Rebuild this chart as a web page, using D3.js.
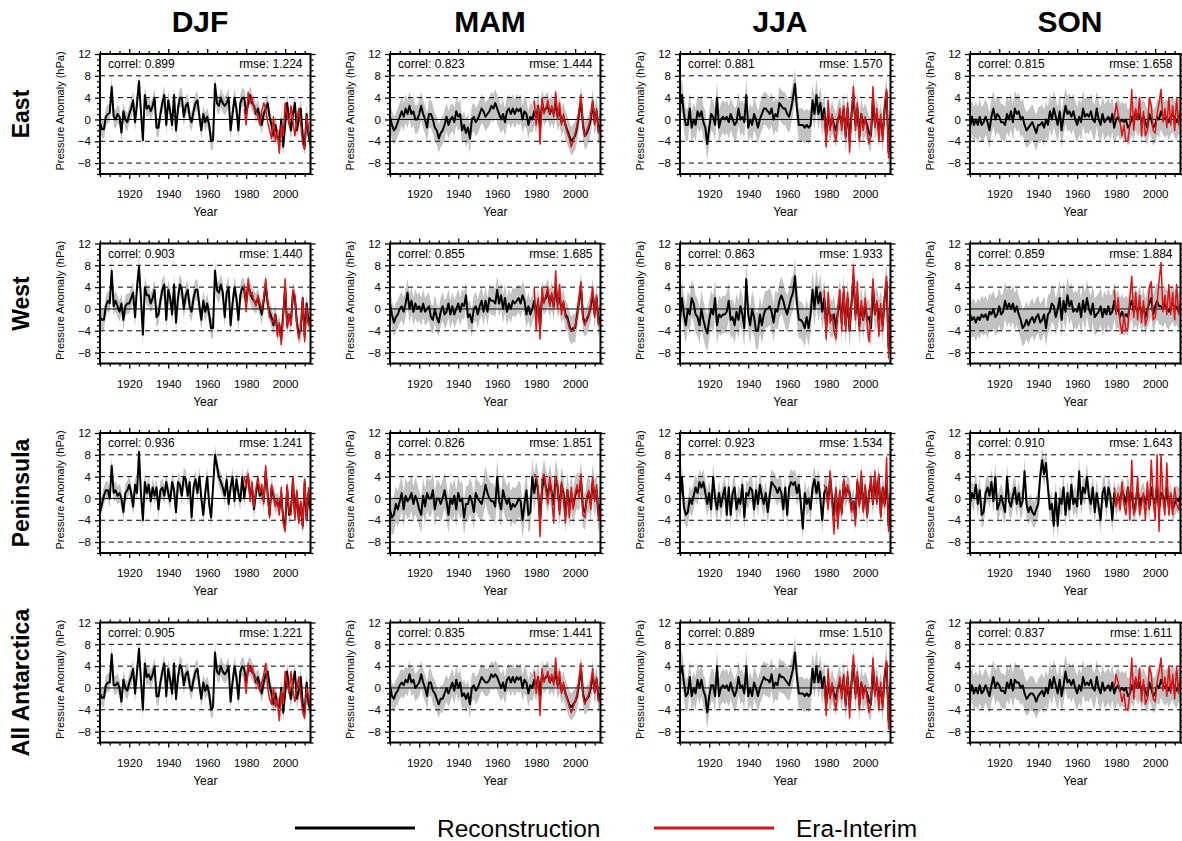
<!DOCTYPE html>
<html><head><meta charset="utf-8">
<script src="https://cdn.jsdelivr.net/npm/d3@7"></script>
<style>body{margin:0;background:#fff}svg{display:block;font-family:"Liberation Sans",Arial,Helvetica,sans-serif}</style>
</head><body>
<script>
// ---------------- DATA ----------------
const seasons = ["DJF","MAM","JJA","SON"];
const regions = ["East","West","Peninsula","All Antarctica"];
const firstYear = 1905, lastYear = 2013, eraStart = 1979;
const xTickValues = [1920,1940,1960,1980,2000];
const yTickValues = [-8,-4,0,4,8,12];
const dashedLevels = [-8,-4,4,8];

const correlEast = ["0.899","0.823","0.881","0.815"], rmseEast = ["1.224","1.444","1.570","1.658"];
const correlWest = ["0.903","0.855","0.863","0.859"], rmseWest = ["1.440","1.685","1.933","1.884"];
const correlPen  = ["0.936","0.826","0.923","0.910"], rmsePen  = ["1.241","1.851","1.534","1.643"];
const correlAll  = ["0.905","0.835","0.889","0.837"], rmseAll  = ["1.221","1.441","1.510","1.611"];

// half width of grey uncertainty band (hPa), per season
const bandEast = [1.7,2.6,3.0,3.3];
const bandWest = [1.9,2.6,3.4,3.4];
const bandPen  = [1.7,3.3,2.4,2.4];
const bandAll  = [1.7,2.5,3.0,3.2];

// Reconstructions 1905-2013
const reconEastDJF = [-0.5,-1.8,-1.8,0.5,1,1.2,6,0.5,0,1, 0.5,-2.4,1.5,0,-0.5,1,2,3.5,-0.5,3, 7,1.5,-3.8,4.5,2,2.5,1.5,2.5,4,-1.5, -1.5,1,3,4.5,-1,3.5,1.5,-1,4.5,-2, 2,4,4,0.5,2.5,3,0.5,-0.5,1.5,3, 3.5,0.5,-2,1,-0.5,0.5,-1,-4,-3.8,6.5, 3,2.5,4,3,2.5,3,4,-2,1,4, 2,-2,3,4,4,1,3,4.5,3,2.5, 1,2,0.5,-1,1,2,3,0.5,-1,-3, -1,-3,-4,0,-5,-1,3,0,-2,1, 3,-2,0,2,-3,-5,1,-3,-4.5];
const reconEastMAM = [0.5,-1,-2,-1.5,-0.5,0.5,1.5,0.5,2,1, 2.5,1,1.5,0,0,1,2.5,1,0,-1.5, 1,1,0,-1.5,-2,-3.5,-2.5,-2,-1,0.5, -1,0,0.5,-0.5,1.5,0.5,1,-2,-1,-2.5, -1.5,-3.5,0,0.5,-0.5,0,1,2,1.5,0.5, 1,1.5,2.5,2,3,2,1,0,1,-0.5, 1.5,2,1,2,1,2,1.5,2,0,1.5, 1,-1,0.5,0,1.5,0,2.5,-1.5,3,1.5, 2,2.5,1,2,1,3,0.5,1.5,-0.5,0.5, -1,-2,-3,-4,-3.5,-3,-1.5,1,3.5,-1, -3,-2.5,-1.5,0,3,-0.5,1.5,-2,-1];
const reconEastJJA = [2.5,4.5,1,-1,-1,2,-1.5,0,-1,1.5, 0.5,1.5,-0.5,-1.5,-4.5,-1.5,1,0.5,-1,4, -1.5,0,0.5,0,0.5,-0.5,1,0,-1,-0.5, 2,0,0.5,-0.5,4.5,-1.5,0,-1,1,0, -1.5,0,1,2,2,1.5,1,2,0,1, 0.5,3,2.5,2,2,1,0.5,2,4,6.5, 2,-1,-1,-1,-1.5,-1,-1.5,-1,3.5,1, 4.5,1,3,0,2,-3,1,-1.5,0.5,-1, -2,0,1,-1,2,-3,2,-4,1,4.5, -1,2,-3,1,-1,0,-1,-2.5,-3,4, -1,1,-2,0,-3,2,5,-6,1];
const reconEastSON = [-1.5,0.5,-1,0,-1,0.5,-1,-0.5,0.5,-0.5, -2,0.5,2,0,1,0.5,-0.5,-0.5,-1,1, 0,1.5,-0.5,2,1,1.5,0,0.5,-1,-2, -1.5,-1,-0.5,-1.5,-2.5,-1,-1,-0.5,-1.5,0, -1,1.5,0,2,0.5,-1,1.5,-2,0.5,2.5, 1,1.5,0.5,1.5,0,-1,0.5,-0.5,2,0.5, 1,0.5,1.5,0,-0.5,2,0,-1,1,-0.5, 0,0.5,-0.5,1,-1.5,0,0.5,-0.5,0,-0.5, 0,-1.5,-1,0.5,-0.5,1.5,0,1,-0.5,0.5, -0.5,-1.5,1,0,-1.5,-1,0.5,0,1.5,0.5, 0,0.5,-0.5,0.5,1,0,-0.5,0.5,1];

const reconWestDJF = [-1.5,-2,-2,0.5,1.5,1,7,0.5,1.5,0.5, -0.5,1,-2,0.5,1,1,2,3,-1.5,4, 7.8,2,-4.7,4,2.5,2.5,1,2,3.5,-1.5, -1,1.5,3.5,4.5,-2,3.5,2,-1,4.5,-2.5, 2,4.5,3.5,0,2.5,3.5,0.5,-0.5,2,3.5, 3.5,0.5,-2,1.5,-0.5,1,-1,-3.5,-3.5,7, 3.5,3,4.5,3,-1.5,3,4,-3,1,4, 2,-2,2.5,4,3.5,1,4.5,3,2,1.5, 1,2,0.5,-1,1.5,4.5,1,-0.5,-1.5,-3, -1,-4,-3,-5.5,-1,4,-3,-1,-2.5,3, 2,-2.5,-4.5,-4,2,-5,1,-2.5,-1.5];
const reconWestMAM = [1,-1,-2.5,-1.5,-1,0,0.5,-0.5,1,3, 0,1.5,-0.5,1,0,0.5,-0.5,1,-0.5,0, 0.5,-1.5,-2,0,-1.5,-2.5,-0.5,0.5,-1,-0.5, 1,-1,0.5,-1,0,1,-0.5,1,0.5,2.5, -1.5,-1,-2.5,0,0.5,-1,0.5,1.5,-0.5,1.5, -0.5,2,1.5,1.5,1,3.5,1,2.5,0,2, -0.5,1,0,1.5,1,1.5,2,1,2.5,1.5, -1,0.5,-1,0,1.5,-1,1.5,-3.5,2.5,1.5, 2,3,1,2.5,0.5,4,1,2,0,1, -1,-1.5,-3,-4,-3.5,-3.5,-1,1.5,4,-1.5, -2.5,-2,-1,0.5,3,-1,2,-2.5,-1.5];
const reconWestJJA = [-2,2,-1,-3,0,-1,2,1,-1,-1.5, -3,0,-2,-3.5,-4.5,-2,0,-1,2,-3, -1,-1.5,-1,-1,-0.5,1.5,-2,-1.5,-3,-0.5, -2,0.5,-1,-3.5,5.5,-1,-3,0,-1.5,-4, -4,-1,-3,-1,0,0,0.5,-0.5,-2.5,0, -0.5,1.5,2.5,1.5,0,-1,0.5,2,3,6, 1,-2,-2,-2.5,-3.5,-1.5,-3.5,-1,3.5,0, 4,1,3,-0.5,2,-3.5,1,-1.5,-2,-1, -3.5,-0.5,2,-2.5,3,-3,2,-4,1,6, -1,2.5,-3,0.5,-2,1,-2,-1.5,-3.5,4, -1,1,-2,0,-3,2,5,-7,1];
const reconWestSON = [-1,-2,-1.5,-2.5,-1.5,-2,-1,-1.5,-1,-2, -0.5,-1,0,-1.5,-1,0.5,-1,-0.5,1.5,0, 1,0,1,-0.5,0.5,-1,-2,-3.5,-3,-2, -3,-2,-1.5,-2.5,-1.5,-1,-2.5,-2,-1,-3.5, -1,-0.5,1,0.5,-1.5,0,2,-2,1.5,-0.5, 2.5,0.5,1.5,-0.5,0,-0.5,1,-1.5,1.5,-0.5, 2,0,-1,1,-1.5,-1,-0.5,0.5,-1.5,0, -1,0.5,-1,-0.5,1.5,-0.5,0,-1.5,-0.5,-1.5, -1,-1.5,0.5,1.5,-0.5,0.5,-0.5,1,-1,0.5, -1.5,0,1,2,-1,0.5,1.5,0.5,0.5,0, 1,0,-0.5,0.5,1,0,0.5,-0.5,0.5];

const reconPenDJF = [-2.5,-1,0.5,1.5,1.5,0,6,1,1.5,0.5, 1,0,-2.5,1,1.5,2.5,1,-1.5,2.5,1, 8.5,1,-4,3,1,2.5,-0.5,2,0.5,2, -2,1.5,2,0.5,3,1,-0.5,3,1.5,-2.5, 3,2.5,0.5,4,3.5,0.5,3,-3.5,2,3.5, 1,4,0,-3,1,4,-1,-3.5,2,8, 6,4,3,2,0.5,3.5,-1,2,4,-0.5, 3.5,1,-0.5,4,0,3,4,0.5,2,-2, 1,3,0.5,1.5,-0.5,5,1,-3,2,0.5, -1,-0.5,-2,1,-4,-5,2,-3,-2,3.5, -3,1,-4,-1,-5,3,-4,1,-2];
const reconPenMAM = [-2,-3.5,-3,-1,-2,-0.5,1,-2,0.5,-0.5, 0,1,-1,0.5,-0.5,-2,-3,0.5,-1.5,1, 0,0,1.5,-2,0,0,-1,0,1.5,-0.5, -3,0,-1,0.5,-2,1,-0.5,0,-3.5,-1, -1,0.5,-0.5,-2.5,1,0,-0.5,-1,0.5,2.5, 1,0,-0.5,-0.5,-1.5,4,-0.5,-2,1.5,0, -1,0,-2,-1,-1.5,-1,0,-0.5,-4,-1, 1.5,-3,-2.5,4,1,3.5,1.5,-4,1.5,4, 2,0.5,3,1,-1,4,2,-2,2.5,1, -3,1.5,-2,1,-1.5,0.5,1.5,1,3.5,-2, -2.5,0,1,-1,3,0,1.5,-3,-1];
const reconPenJJA = [0,4,-1.5,-3,-2.5,0,-1,0.5,2,1, 3,2,3,1,-1,1,-2,4,0,-2, 1,-1.5,0.5,2,-3,2,-3,1,2,-2, 0,-1,2.5,-3.5,1,0.5,2,1.5,-2,1.5, -1,2.5,0.5,-1,1,-2.5,0.5,3,2.5,2, 1,2,1,-2,2,-3,2,3,2.5,3, 1,2.5,-1,-5.5,1,-1,0,-2,2,3.5, 1,3,0,-4,1,2,-1,4,0,-3, 1.5,-4,1,-2.5,3,0.5,2,1,-2,-0.5, -3.5,3,-1,4,-2,2,-3,1,3,-1, 4,-0.5,4,-3,2,-1,4,-5,1];
const reconPenSON = [-1,1,0,2.5,-1,1.5,-3,-2.5,1,2, 0.5,3,-0.5,4,-2,-1,0.5,-1,-2.5,4, -0.5,-1.5,0.5,2,-1,1,-1.5,-0.5,5,-1, -2.5,-1.5,-2.5,-3,-2,-1,4,7,4.5,6.5, 2,-2,-1,-5,1,-5,0,-1,2,-3, 1,-2,2.5,-1,0,-1.5,5,-1,2,1, 4,0.5,-1,2,-2.5,1,-1.5,-4,1,2, -1.5,2,0.5,-4,1,-1,0.5,-0.5,1.5,0.5, -1,2,-0.5,1,-2,-1,2,-1.5,0,0.5, -1,1,-1.5,2,0,-1,2,-2,1,0.5, -1,2,-1.5,0.5,-2,-1,0,-0.5,0.5];

const reconAllDJF = [-1,-1.8,-1.8,0.5,1,1,6.2,0.5,0.5,1, 0,-2.5,1.5,0,-0.5,1,2,3.5,-1,3, 7.2,1.5,-4,4.5,2,2.5,1.5,2.5,4,-1.5, -1.5,1,3,4.5,-1.5,3.5,1.5,-1,4.5,-2, 2,4.2,3.5,0.5,2.5,3,0.5,-0.5,1.5,3, 3.5,0.5,-2,1,-0.5,0.5,-1,-4,-3.5,6.5, 3,2.5,4,3,2.5,3,4,-2.5,1,4, 2,-2,3,4,3.5,1,3.5,4,3,2.5, 1,2,0.5,-1,1,2.5,3,0.5,-1,-3, -1,-3,-3.5,0,-4.5,-1,3,0,-2,1, 3,-2,-0.5,2,-3,-4.5,1,-3,-4];
const reconAllMAM = [0.5,-1.5,-2,-1,-0.5,0.5,1,0.5,1.5,1, 2.5,1,1.5,0,0.5,1,2.5,1,0,-1.5, 1,1,-0.5,-1,-2,-3,-2,-2,-1,0, -1,0,1,-0.5,1.5,0,1,-1.5,-1,-2, -1,-3,0,0.5,-0.5,0,1,2,1.5,1, 1,1.5,2.5,2,2.5,2,1,0,1,-0.5, 1.5,2,1,2,1,2,1.5,2,0,1.5, 1,-1,0.5,0,1.5,0,2,-1.5,2.5,1.5, 2,2.5,1,2,1,3,0.5,1.5,-0.5,0.5, -1,-2,-3,-3.5,-3,-2.5,-1.5,1,3.5,-1, -2.5,-2,-1.5,0,2.5,-0.5,1.5,-2,-1];
const reconAllJJA = [2.5,4,1,-1.5,-1,2,-1.5,0,-1,1.5, 0,1.5,-0.5,-1.5,-4.5,-1.5,0.5,0.5,-1.5,4, -1.5,0,0.5,0,0.5,-0.5,1,-0.5,-1.5,-0.5, 2,0,0.5,-1,4,-1.5,0,-1.5,1,0, -1.5,0,1,2,1.5,1.5,1,2.5,0,1, 0.5,2.5,2,2,1.5,1,0.5,2,3.5,6.5, 2,-1,-1,-1,-1.5,-1,-1.5,-1,3.5,1, 4,1,3,0,2,-3,1,-1.5,0.5,-1, -2,0,1,-1,2,-3,2,-3.5,1,4.5, -1,2,-3,1,-1,0,-1,-2.5,-3,4, -1,1,-2,0,-3,2,4.5,-6,1];
const reconAllSON = [-1,0.5,-1,0,-1,0.5,-1,-0.5,0.5,-0.5, -1.5,0.5,2,0,1,0.5,-0.5,-0.5,-1,1, 0,1.5,-0.5,1.5,1,1,0,0.5,-1,-2, -1.5,-1,-1,-1.5,-2.5,-1.5,-1,-0.5,-1.5,0, -1,1.5,0,2,0.5,-1,1.5,-1.5,0.5,3, 1,1.5,0.5,1.5,0,-1,0.5,-0.5,2,0.5, 1,0.5,1.5,0,-0.5,2,0,-1,1,-0.5, 0,0.5,-0.5,1,-1,0,0.5,-0.5,0,-0.5, 0,-1.5,-1,0.5,-0.5,1.5,0,1,-0.5,0.5, -0.5,-1.5,1,0,-1.5,-1,0.5,0,1.5,0.5, 0,0.5,-0.5,0.5,1,0,-0.5,0.5,1];

// ERA-Interim 1979-2013
const eraEastDJF = [2,-1,5,3,4,2,1.5,0.5,-1,1.5, 3,2,-0.5,-2,-3.5,0.5,-4,-2,-6.2,-1, -3,3,1,-1,2.5,-0.5,-3,0,2,-1, -4.5,-5.5,0.5,-2,-4];
const eraEastMAM = [3.5,-1,2.5,-4.5,4,1,2,3.5,1,2.5, 0.5,5,0,3,-1,1,-1,-2.5,-3.5,-5, -4,-2.5,-1,1.5,4.5,-1.5,-3,-2,-1,0.5, 3.5,-1,2,-2.5,-1.5];
const eraEastJJA = [1,-5,3.5,-2,1,-2,-4,0,2,-2, 2.5,-3.5,3,-6,1,6,-2,3,-4,1, -2,0.5,-2,-4.5,-2.5,6,-1.5,2,-4,1, -4,3,5.5,-7,2];
const eraEastSON = [0,3,1,-0.5,-3,-1,-4,-4,-1,5.5, -2,2,0,4,-3,1.5,-3,-2,4,2.5, -2,-2.5,1,3,5.5,-0.5,2,-1.5,4,-1, 2.5,-2,4,-1,2];

const eraWestDJF = [4.5,-0.5,5.5,2.5,3,1.5,0.5,2.5,1,0, 2,5.5,1.5,-1.5,-2,-2.5,-1,-5,-2.5,-6.5, -1.5,5.5,-3.5,-1,-3,3.5,2.5,-3,-5.5,-3.5, 2,-6,0.5,-3,-2];
const eraWestMAM = [4,-4,2,-5.5,4,1,2.5,4,0.5,3, 0,7,0,4.5,-1,1.5,-1.5,-2,-3.5,-4, -4,-3,-1.5,2,5,-2,-3,-1.5,-1,1, 4,-1.5,2.5,-3,-2];
const eraWestJJA = [3.5,-5.5,3,-2.5,-1,-4,-5.5,0,3.5,-4, 4,-4,3,-4,1,8,-2,5,-4,1.5, -2,2,-2.5,-6,-1.5,5.5,-1,1.5,-5,1, -4,2.5,6,-9,5.5];
const eraWestSON = [3.5,-1,2,-2.5,-4.5,-1,-4,-3.5,2,6, -1.5,3,-2,2.5,-2.5,1.5,-3,-1.5,4,5, -2,-1.5,1,5,8.5,-0.5,2.5,-1,4.5,-1, 3,-2,4.5,-1,1.5];

const eraPenDJF = [4,2,4.5,-0.5,3,-1.5,1.5,4,1,2.5, -1,6,0.5,-3.5,2.5,1,-1.5,0,-3,2, -4.5,-6,2.5,-2.5,-3,4,-4,1.5,-4.5,-0.5, -5.5,3.5,-4,2,-1.5];
const eraPenMAM = [4.5,4,2,-7,3.5,4.5,1.5,-1,4,0.5, -4.5,4,2.5,-3,3,0.5,-4.5,1.5,-3.5,2, -2,1,2.5,0,4.5,-3,-3.5,0.5,1.5,-2, 4,-0.5,2.5,-4,-1.5];
const eraPenJJA = [2.5,1.5,-2,5,-1,-6.5,2,-5.5,1.5,-3, 3.5,0,2.5,0.5,-2.5,-0.5,-5,3.5,-1.5,5, -2.5,2.5,-3.5,0.5,4,-1,5,-1,4.5,-3.5, 2,-1.5,7.5,-6,1];
const eraPenSON = [2,-1.5,1,-2,3,-1,-3,2,-4,7, -3,-2,4,-3,-1,1,-4,3,-2,7, 0,-4,8,-6,8,0,-3,6.5,-3,1, -3,2,-1,-2,0];

const eraAllDJF = [2.5,-1,4.5,3,4,2,1.5,0.5,-0.5,1, 2.5,4.5,0,-2,-3,0,-3.5,-2,-6,-0.5, -3,3,1,-1,3,-0.5,-2.5,0,2,-1.5, -4.5,-5.5,0,-1.5,-4];
const eraAllMAM = [3,-1,2,-5,3.5,1,2,3,1,2.5, 0.5,5.5,0,3,-1,1,-1,-2,-3.5,-4.5, -3.5,-2.5,-1,1.5,4.5,-1.5,-3,-2,-1,0.5, 3.5,-1,2,-2.5,-1.5];
const eraAllJJA = [1,-5,3.5,-2,1,-2,-4,0,2,-2, 2.5,-3.5,3,-5.5,1,6,-2,3,-4,1, -2,0.5,-2,-4.5,-2.5,5.5,-1.5,2,-4,1, -4,3,5,-7.5,2];
const eraAllSON = [0,2.5,1,-0.5,-2.5,-1,-4,-4,-1,5.5, -2,2,0,3.5,-2.5,1.5,-3,-2,4,2.5, -2,-2.5,1,3,5.5,-0.5,2,-1.5,4,-1, 2.5,-2,4,-1,2];

const legendLabels = ["Reconstruction","Era-Interim"];

// ---------------- TABLE ----------------
const table = [
  {name:"East", recon:[reconEastDJF,reconEastMAM,reconEastJJA,reconEastSON], era:[eraEastDJF,eraEastMAM,eraEastJJA,eraEastSON], band:bandEast, correl:correlEast, rmse:rmseEast},
  {name:"West", recon:[reconWestDJF,reconWestMAM,reconWestJJA,reconWestSON], era:[eraWestDJF,eraWestMAM,eraWestJJA,eraWestSON], band:bandWest, correl:correlWest, rmse:rmseWest},
  {name:"Peninsula", recon:[reconPenDJF,reconPenMAM,reconPenJJA,reconPenSON], era:[eraPenDJF,eraPenMAM,eraPenJJA,eraPenSON], band:bandPen, correl:correlPen, rmse:rmsePen},
  {name:"All Antarctica", recon:[reconAllDJF,reconAllMAM,reconAllJJA,reconAllSON], era:[eraAllDJF,eraAllMAM,eraAllJJA,eraAllSON], band:bandAll, correl:correlAll, rmse:rmseAll}
];

// ---------------- DRAW ----------------
const W = 1182, H = 841;
const colLeft = [100,390,680,970], rowTop = [54,243.5,433,622.5];
const pw = 210.5, ph = 120;
const RED = "#dc1414", GREY = "#c2c2c2";

const svg = d3.select("body").append("svg").attr("width",W).attr("height",H);

const x = d3.scaleLinear().domain([firstYear,lastYear]).range([0,pw]);
const y = d3.scaleLinear().domain([-10,12]).range([ph,0]);

seasons.forEach((s,c)=>{
  svg.append("text").attr("x",colLeft[c]+100).attr("y",32).attr("text-anchor","middle")
    .attr("font-size",30).attr("font-weight","bold").text(s);
});
regions.forEach((r,i)=>{
  svg.append("text").attr("transform",`translate(21,${rowTop[i]+ph/2}) rotate(-90)`)
    .attr("text-anchor","middle").attr("dominant-baseline","central")
    .attr("font-size",23).attr("font-weight","bold").text(r);
});

const minorX = d3.range(firstYear, lastYear+1, 5).filter(v=>!xTickValues.includes(v));
const minorY = d3.range(-10,13,1).filter(v=>!yTickValues.includes(v));

table.forEach((row,ri)=>{
  seasons.forEach((s,ci)=>{
    const g = svg.append("g").attr("transform",`translate(${colLeft[ci]},${rowTop[ri]})`);
    const id = `clip${ri}${ci}`;
    g.append("clipPath").attr("id",id).append("rect").attr("width",pw).attr("height",ph);
    const inner = g.append("g").attr("clip-path",`url(#${id})`);
    const rec = row.recon[ci].map((v,i)=>({yr:firstYear+i, v}));
    const era = row.era[ci].map((v,i)=>({yr:eraStart+i, v}));
    const hw = row.band[ci];
    inner.append("path").datum(rec).attr("fill",GREY)
      .attr("d", d3.area().x(d=>x(d.yr)).y0(d=>y(d.v-hw)).y1(d=>y(d.v+hw)));
    dashedLevels.forEach(lv=>{
      inner.append("line").attr("x1",0).attr("x2",pw).attr("y1",y(lv)).attr("y2",y(lv))
        .attr("stroke","#000").attr("stroke-width",1).attr("stroke-dasharray","5,4");
    });
    inner.append("line").attr("x1",0).attr("x2",pw).attr("y1",y(0)).attr("y2",y(0))
      .attr("stroke","#000").attr("stroke-width",1);
    inner.append("path").datum(rec).attr("fill","none").attr("stroke","#000").attr("stroke-width",2)
      .attr("stroke-linejoin","round").attr("d", d3.line().x(d=>x(d.yr)).y(d=>y(d.v)));
    inner.append("path").datum(era).attr("fill","none").attr("stroke",RED).attr("stroke-width",1.5)
      .attr("stroke-linejoin","round").attr("d", d3.line().x(d=>x(d.yr)).y(d=>y(d.v)));

    const styleAx = a => { a.select(".domain").remove(); a.selectAll("line").attr("stroke-width",1.3); a.selectAll("text").attr("font-family",null); };
    const bx = g.append("g").attr("transform",`translate(0,${ph})`)
      .call(d3.axisBottom(x).tickValues(xTickValues).tickFormat(d3.format("d")).tickSize(5).tickPadding(11));
    bx.selectAll("text").attr("font-size",11.5);
    styleAx(bx);
    styleAx(g.append("g").attr("transform",`translate(0,${ph})`).call(d3.axisBottom(x).tickValues(minorX).tickSize(3).tickFormat("")));
    styleAx(g.append("g").call(d3.axisTop(x).tickValues(xTickValues).tickSize(5).tickFormat("")));
    styleAx(g.append("g").call(d3.axisTop(x).tickValues(minorX).tickSize(3).tickFormat("")));
    const ly = g.append("g").call(d3.axisLeft(y).tickValues(yTickValues).tickSize(5).tickPadding(4));
    ly.selectAll("text").attr("font-size",11.5);
    styleAx(ly);
    styleAx(g.append("g").call(d3.axisLeft(y).tickValues(minorY).tickSize(3).tickFormat("")));
    styleAx(g.append("g").attr("transform",`translate(${pw},0)`).call(d3.axisRight(y).tickValues(yTickValues).tickSize(5).tickFormat("")));
    styleAx(g.append("g").attr("transform",`translate(${pw},0)`).call(d3.axisRight(y).tickValues(minorY).tickSize(3).tickFormat("")));

    g.append("rect").attr("width",pw).attr("height",ph).attr("fill","none").attr("stroke","#000").attr("stroke-width",2);

    g.append("text").attr("x",8).attr("y",14).attr("font-size",12).text("correl: "+row.correl[ci]);
    g.append("text").attr("x",pw-8).attr("y",14).attr("font-size",12).attr("text-anchor","end").text("rmse: "+row.rmse[ci]);
    g.append("text").attr("x",pw/2).attr("y",ph+42).attr("font-size",12).attr("text-anchor","middle").text("Year");
    g.append("text").attr("transform",`translate(-36,${ph/2-3}) rotate(-90)`).attr("font-size",11)
      .attr("text-anchor","middle").text("Pressure Anomaly (hPa)");
  });
});

// legend
const lg = svg.append("g");
[["#000",295,415,437],[RED,654,774,796]].forEach((d,i)=>{
  lg.append("line").attr("x1",d[1]).attr("x2",d[2]).attr("y1",828).attr("y2",828).attr("stroke",d[0]).attr("stroke-width",3);
  lg.append("text").attr("x",d[3]).attr("y",828).attr("dominant-baseline","central").attr("font-size",24.5).text(legendLabels[i]);
});
</script>
</body></html>
